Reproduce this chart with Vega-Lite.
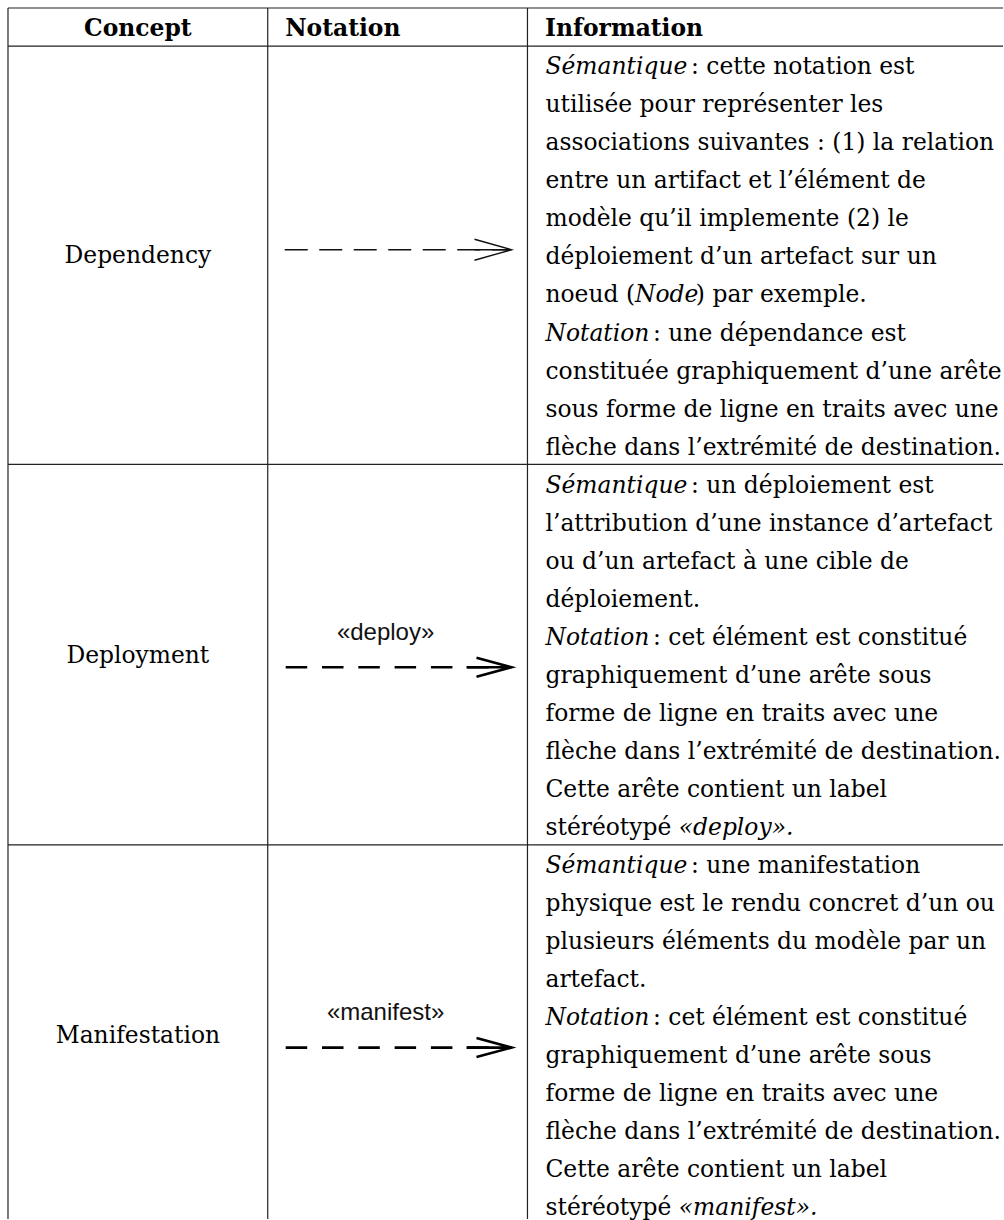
{
  "$schema": "https://vega.github.io/schema/vega-lite/v6.json",
  "width": 1004,
  "height": 1220,
  "autosize": {"type": "fit", "contains": "padding"},
  "padding": 0,
  "background": "white",
  "config": {"view": {"stroke": null}},
  "datasets": {
    "header": [
      {"col": 0, "title": "Concept"},
      {"col": 1, "title": "Notation"},
      {"col": 2, "title": "Information"}
    ],
    "rows": [
      {"concept": "Dependency", "label": "", "first": 1, "last": 11},
      {"concept": "Deployment", "label": "«deploy»", "first": 12, "last": 21},
      {"concept": "Manifestation", "label": "«manifest»", "first": 22, "last": 31}
    ],
    "segs": [
      {"line": 1, "text": "Sémantique", "em": true, "after": ""},
      {"line": 1, "text": ": cette notation est", "em": false, "after": "Sémantique"},
      {"line": 2, "text": "utilisée pour représenter les", "em": false, "after": ""},
      {"line": 3, "text": "associations suivantes : (1) la relation", "em": false, "after": ""},
      {"line": 4, "text": "entre un artifact et l’élément de", "em": false, "after": ""},
      {"line": 5, "text": "modèle qu’il implemente (2) le", "em": false, "after": ""},
      {"line": 6, "text": "déploiement d’un artefact sur un", "em": false, "after": ""},
      {"line": 7, "text": "noeud (", "em": false, "after": ""},
      {"line": 7, "text": "Node", "em": true, "after": "noeud ("},
      {"line": 7, "text": ") par exemple.", "em": false, "after": "noeud (Node"},
      {"line": 8, "text": "Notation", "em": true, "after": ""},
      {"line": 8, "text": ": une dépendance est", "em": false, "after": "Notation"},
      {"line": 9, "text": "constituée graphiquement d’une arête", "em": false, "after": ""},
      {"line": 10, "text": "sous forme de ligne en traits avec une", "em": false, "after": ""},
      {"line": 11, "text": "flèche dans l’extrémité de destination.", "em": false, "after": ""},
      {"line": 12, "text": "Sémantique", "em": true, "after": ""},
      {"line": 12, "text": ": un déploiement est", "em": false, "after": "Sémantique"},
      {"line": 13, "text": "l’attribution d’une instance d’artefact", "em": false, "after": ""},
      {"line": 14, "text": "ou d’un artefact à une cible de", "em": false, "after": ""},
      {"line": 15, "text": "déploiement.", "em": false, "after": ""},
      {"line": 16, "text": "Notation", "em": true, "after": ""},
      {"line": 16, "text": ": cet élément est constitué", "em": false, "after": "Notation"},
      {"line": 17, "text": "graphiquement d’une arête sous", "em": false, "after": ""},
      {"line": 18, "text": "forme de ligne en traits avec une", "em": false, "after": ""},
      {"line": 19, "text": "flèche dans l’extrémité de destination.", "em": false, "after": ""},
      {"line": 20, "text": "Cette arête contient un label", "em": false, "after": ""},
      {"line": 21, "text": "stéréotypé", "em": false, "after": ""},
      {"line": 21, "text": "«deploy».", "em": true, "after": "stéréotypé"},
      {"line": 22, "text": "Sémantique", "em": true, "after": ""},
      {"line": 22, "text": ": une manifestation", "em": false, "after": "Sémantique"},
      {"line": 23, "text": "physique est le rendu concret d’un ou", "em": false, "after": ""},
      {"line": 24, "text": "plusieurs éléments du modèle par un", "em": false, "after": ""},
      {"line": 25, "text": "artefact.", "em": false, "after": ""},
      {"line": 26, "text": "Notation", "em": true, "after": ""},
      {"line": 26, "text": ": cet élément est constitué", "em": false, "after": "Notation"},
      {"line": 27, "text": "graphiquement d’une arête sous", "em": false, "after": ""},
      {"line": 28, "text": "forme de ligne en traits avec une", "em": false, "after": ""},
      {"line": 29, "text": "flèche dans l’extrémité de destination.", "em": false, "after": ""},
      {"line": 30, "text": "Cette arête contient un label", "em": false, "after": ""},
      {"line": 31, "text": "stéréotypé", "em": false, "after": ""},
      {"line": 31, "text": "«manifest».", "em": true, "after": "stéréotypé"}
    ]
  },
  "layer": [
    {
      "data": {"name": "header"},
      "layer": [
        {
          "mark": {"type": "rule", "color": "#222", "strokeWidth": 1.2},
          "encoding": {
            "x": {"field": "col", "type": "quantitative", "scale": {"domain": [-0.030769, 3.830769], "nice": false, "zero": false}, "axis": null},
            "y": {"datum": -0.5, "type": "quantitative", "scale": {"domain": [-0.7101, 31.336], "nice": false, "zero": false, "reverse": true}, "axis": null},
            "y2": {"datum": 31.336}
          }
        },
        {
          "transform": [{"filter": "datum.col === 0"}],
          "mark": {"type": "rule", "color": "#222", "strokeWidth": 1.2},
          "encoding": {
            "x": {"datum": 0, "type": "quantitative", "scale": {"domain": [-0.030769, 3.830769], "nice": false, "zero": false}, "axis": null},
            "x2": {"datum": 3.830769},
            "y": {"datum": -0.5, "type": "quantitative", "scale": {"domain": [-0.7101, 31.336], "nice": false, "zero": false, "reverse": true}, "axis": null}
          }
        },
        {
          "transform": [{"filter": "datum.col === 0"}],
          "mark": {"type": "text", "font": "DejaVu Serif", "fontSize": 23.4, "fontWeight": "bold", "color": "#000", "align": "center", "baseline": "alphabetic", "dy": 9.2},
          "encoding": {
            "x": {"datum": 0.5, "type": "quantitative", "scale": {"domain": [-0.030769, 3.830769], "nice": false, "zero": false}, "axis": null},
            "y": {"datum": 0, "type": "quantitative", "scale": {"domain": [-0.7101, 31.336], "nice": false, "zero": false, "reverse": true}, "axis": null},
            "text": {"field": "title"}
          }
        },
        {
          "transform": [{"filter": "datum.col > 0"}],
          "mark": {"type": "text", "font": "DejaVu Serif", "fontSize": 23.4, "fontWeight": "bold", "color": "#000", "align": "left", "baseline": "alphabetic", "dx": 17.5, "dy": 9.2},
          "encoding": {
            "x": {"field": "col", "type": "quantitative", "scale": {"domain": [-0.030769, 3.830769], "nice": false, "zero": false}, "axis": null},
            "y": {"datum": 0, "type": "quantitative", "scale": {"domain": [-0.7101, 31.336], "nice": false, "zero": false, "reverse": true}, "axis": null},
            "text": {"field": "title"}
          }
        }
      ]
    },
    {
      "data": {"name": "rows"},
      "transform": [
        {"calculate": "(datum.first + datum.last) / 2", "as": "mid"},
        {"calculate": "datum.first - 0.5", "as": "top"}
      ],
      "layer": [
        {
          "mark": {"type": "rule", "color": "#222", "strokeWidth": 1.2},
          "encoding": {
            "x": {"datum": 0, "type": "quantitative", "scale": {"domain": [-0.030769, 3.830769], "nice": false, "zero": false}, "axis": null},
            "x2": {"datum": 3.830769},
            "y": {"field": "top", "type": "quantitative", "scale": {"domain": [-0.7101, 31.336], "nice": false, "zero": false, "reverse": true}, "axis": null}
          }
        },
        {
          "mark": {"type": "text", "font": "DejaVu Serif", "fontSize": 23.4, "color": "#000", "align": "center", "baseline": "alphabetic", "dy": 8},
          "encoding": {
            "x": {"datum": 0.5, "type": "quantitative", "scale": {"domain": [-0.030769, 3.830769], "nice": false, "zero": false}, "axis": null},
            "y": {"field": "mid", "type": "quantitative", "scale": {"domain": [-0.7101, 31.336], "nice": false, "zero": false, "reverse": true}, "axis": null},
            "text": {"field": "concept"}
          }
        },
        {
          "transform": [{"filter": "datum.label !== ''"}],
          "mark": {"type": "text", "font": "Liberation Sans", "fontSize": 24, "color": "#111", "align": "center", "baseline": "alphabetic", "dy": -15},
          "encoding": {
            "x": {"datum": 1.4538, "type": "quantitative", "scale": {"domain": [-0.030769, 3.830769], "nice": false, "zero": false}, "axis": null},
            "y": {"field": "mid", "type": "quantitative", "scale": {"domain": [-0.7101, 31.336], "nice": false, "zero": false, "reverse": true}, "axis": null},
            "text": {"field": "label"}
          }
        },
        {
          "transform": [{"filter": "datum.label === ''"}, {"calculate": "datum.mid - 0.145", "as": "ay"}],
          "layer": [
            {
              "mark": {"type": "rule", "color": "#111", "strokeWidth": 1.4, "strokeDash": [23, 11.5]},
              "encoding": {
                "x": {"datum": 1.0654, "type": "quantitative", "scale": {"domain": [-0.030769, 3.830769], "nice": false, "zero": false}, "axis": null},
                "x2": {"datum": 1.9385},
                "y": {"field": "ay", "type": "quantitative", "scale": {"domain": [-0.7101, 31.336], "nice": false, "zero": false, "reverse": true}, "axis": null}
              }
            },
            {
              "mark": {"type": "point", "shape": "M-3.7,-1.05L0,0L-3.7,1.05M-3.7,0L0,0", "size": 400, "filled": false, "stroke": "#111", "strokeWidth": 1.4, "opacity": 1, "strokeJoin": "miter"},
              "encoding": {
                "x": {"datum": 1.9385, "type": "quantitative", "scale": {"domain": [-0.030769, 3.830769], "nice": false, "zero": false}, "axis": null},
                "y": {"field": "ay", "type": "quantitative", "scale": {"domain": [-0.7101, 31.336], "nice": false, "zero": false, "reverse": true}, "axis": null}
              }
            }
          ]
        },
        {
          "transform": [{"filter": "datum.label !== ''"}, {"calculate": "datum.mid + 0.33", "as": "ay"}],
          "layer": [
            {
              "mark": {"type": "rule", "color": "#000", "strokeWidth": 2.6, "strokeDash": [21.5, 14.8]},
              "encoding": {
                "x": {"datum": 1.0692, "type": "quantitative", "scale": {"domain": [-0.030769, 3.830769], "nice": false, "zero": false}, "axis": null},
                "x2": {"datum": 1.9385},
                "y": {"field": "ay", "type": "quantitative", "scale": {"domain": [-0.7101, 31.336], "nice": false, "zero": false, "reverse": true}, "axis": null}
              }
            },
            {
              "mark": {"type": "point", "shape": "M-3.5,-0.95L0,0L-3.5,0.95M-4.5,0L0,0", "size": 400, "filled": false, "stroke": "#000", "strokeWidth": 2.6, "opacity": 1, "strokeJoin": "miter"},
              "encoding": {
                "x": {"datum": 1.9385, "type": "quantitative", "scale": {"domain": [-0.030769, 3.830769], "nice": false, "zero": false}, "axis": null},
                "y": {"field": "ay", "type": "quantitative", "scale": {"domain": [-0.7101, 31.336], "nice": false, "zero": false, "reverse": true}, "axis": null}
              }
            }
          ]
        }
      ]
    },
    {
      "data": {"name": "segs"},
      "encoding": {
        "x": {"datum": 2, "type": "quantitative", "scale": {"domain": [-0.030769, 3.830769], "nice": false, "zero": false}, "axis": null},
        "y": {"field": "line", "type": "quantitative", "scale": {"domain": [-0.7101, 31.336], "nice": false, "zero": false, "reverse": true}, "axis": null},
        "text": {"field": "text"}
      },
      "layer": [
        {
          "transform": [{"filter": "datum.after === '' && !datum.em"}],
          "mark": {"type": "text", "font": "DejaVu Serif", "fontSize": 23.4, "color": "#000", "align": "left", "baseline": "alphabetic", "dx": 18, "dy": 9.2}
        },
        {
          "transform": [{"filter": "datum.after === '' && datum.em"}],
          "mark": {"type": "text", "font": "DejaVu Serif", "fontSize": 23.4, "fontStyle": "italic", "color": "#000", "align": "left", "baseline": "alphabetic", "dx": 18, "dy": 9.2}
        },
        {
          "transform": [{"filter": "datum.after === 'Sémantique'"}],
          "mark": {"type": "text", "font": "DejaVu Serif", "fontSize": 23.4, "color": "#000", "align": "left", "baseline": "alphabetic", "dx": 163.5, "dy": 9.2}
        },
        {
          "transform": [{"filter": "datum.after === 'Notation'"}],
          "mark": {"type": "text", "font": "DejaVu Serif", "fontSize": 23.4, "color": "#000", "align": "left", "baseline": "alphabetic", "dx": 125.5, "dy": 9.2}
        },
        {
          "transform": [{"filter": "datum.after === 'noeud ('"}],
          "mark": {"type": "text", "font": "DejaVu Serif", "fontSize": 23.4, "fontStyle": "italic", "color": "#000", "align": "left", "baseline": "alphabetic", "dx": 107.6, "dy": 9.2}
        },
        {
          "transform": [{"filter": "datum.after === 'noeud (Node'"}],
          "mark": {"type": "text", "font": "DejaVu Serif", "fontSize": 23.4, "color": "#000", "align": "left", "baseline": "alphabetic", "dx": 168.4, "dy": 9.2}
        },
        {
          "transform": [{"filter": "datum.after === 'stéréotypé'"}],
          "mark": {"type": "text", "font": "DejaVu Serif", "fontSize": 23.4, "fontStyle": "italic", "color": "#000", "align": "left", "baseline": "alphabetic", "dx": 151.3, "dy": 9.2}
        }
      ]
    }
  ]
}
